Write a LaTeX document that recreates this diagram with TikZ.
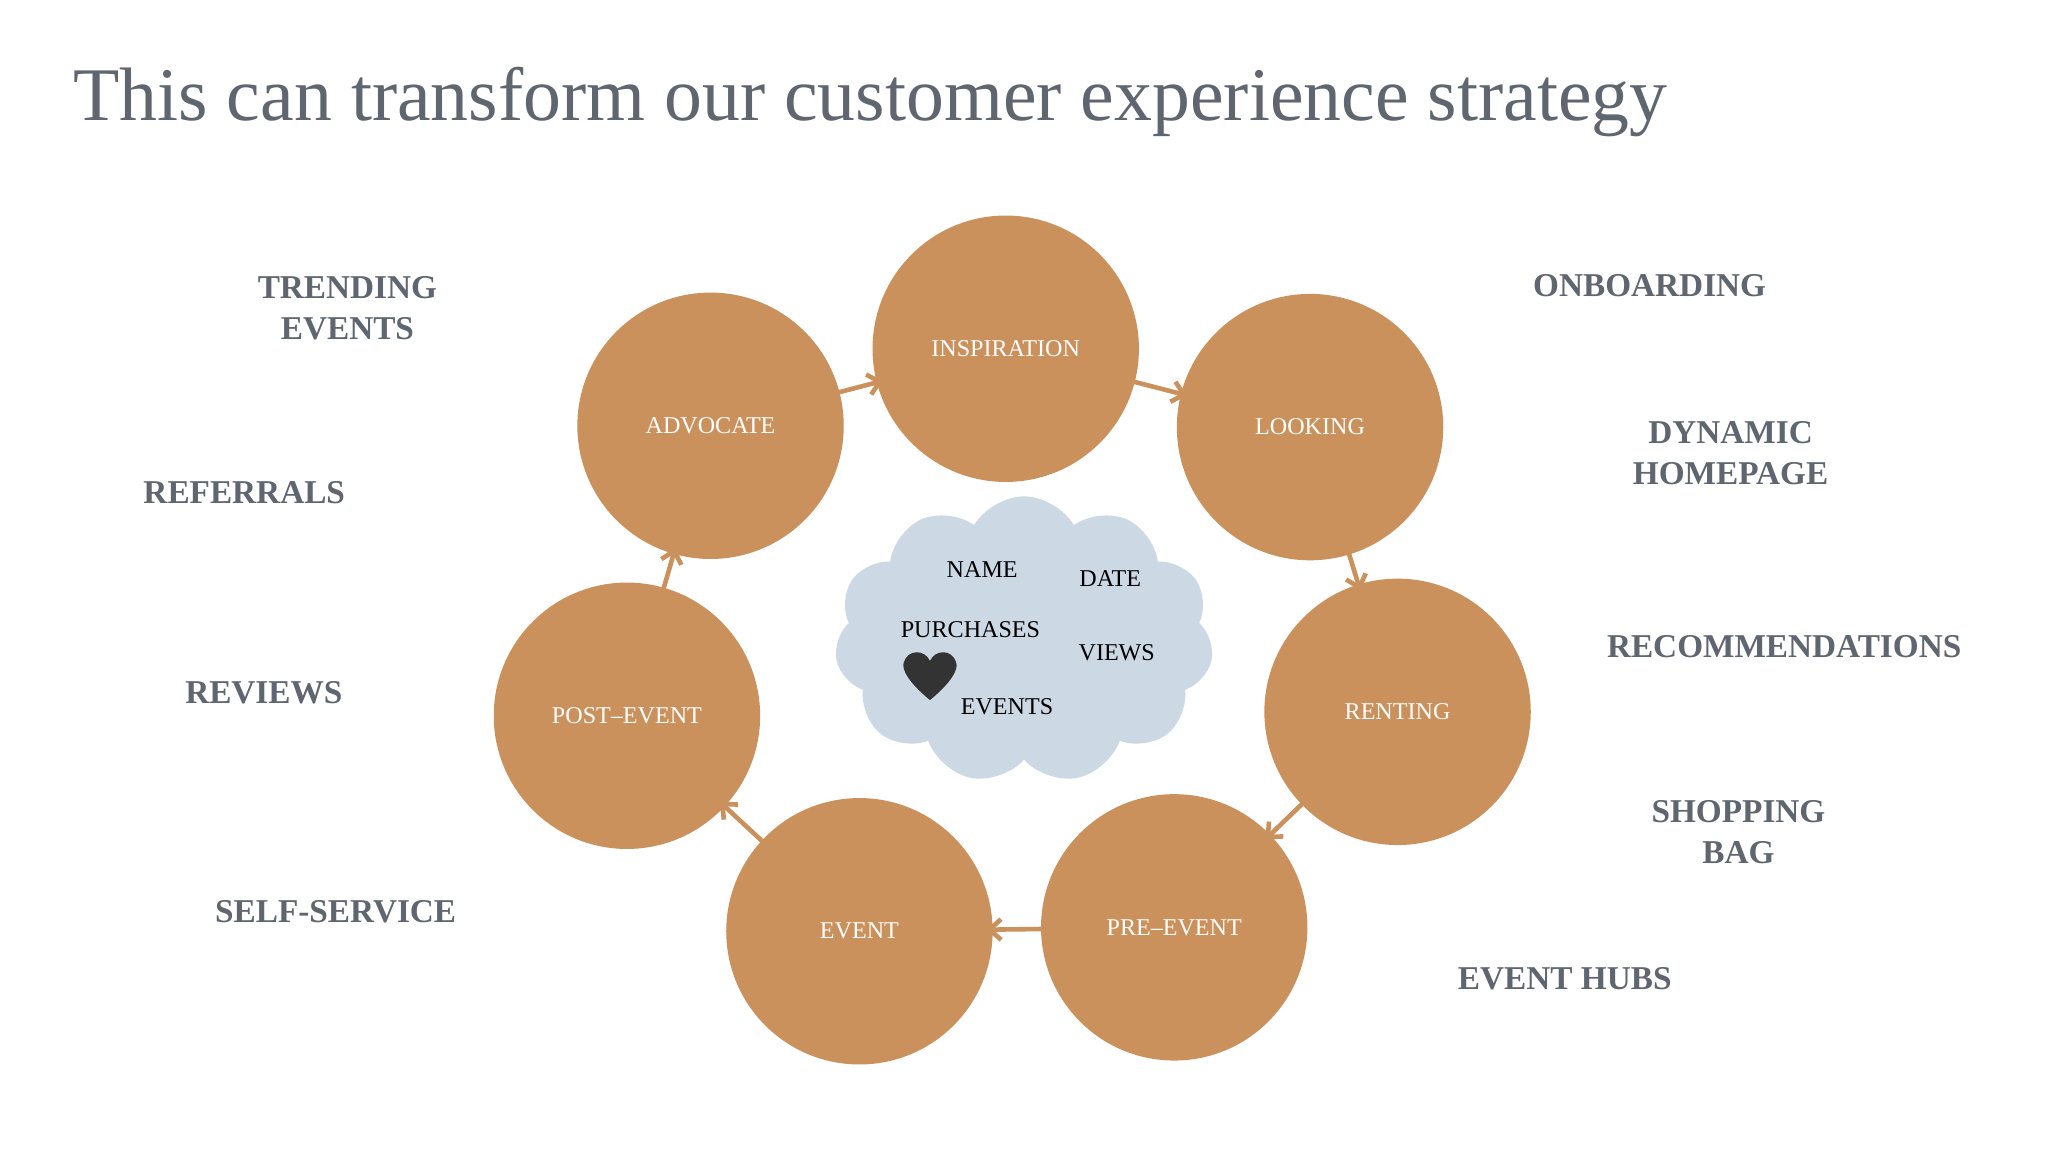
\documentclass[tikz,border=0pt]{standalone}
\usepackage{fontspec}
\setmainfont{Liberation Serif}
\usetikzlibrary{shapes.symbols,arrows.meta}
\definecolor{orng}{HTML}{CB915C}
\definecolor{cloudc}{HTML}{CCD9E5}
\definecolor{gry}{HTML}{5F6670}
\begin{document}
\begin{tikzpicture}[x=0.02cm,y=-0.02cm,
 stage/.style={circle,fill=orng,minimum size=4.08cm,inner sep=0pt,text=white,font=\fontsize{10.5}{12}\selectfont},
 side/.style={text=gry,font=\bfseries\fontsize{14.5}{18}\selectfont,align=center},
 ctext/.style={font=\fontsize{10.5}{12}\selectfont,text=black},
 flow/.style={draw=orng,line width=2pt,-{Straight Barb[length=5pt,width=9pt]},shorten <=-3pt,shorten >=-3pt}]
\useasboundingbox[fill=white] (0,0) rectangle (1568,882);
\node[anchor=west,text=gry,font=\fontsize{33}{38}\selectfont] (title) at (50,78) {This can transform our customer experience strategy};
\node[cloud,cloud puffs=11,cloud puff arc=120,aspect=1.3,fill=cloudc,minimum width=5.8cm,minimum height=4.4cm] (cl) at (784,490) {};
\node[ctext] (nm) at (752,436) {NAME};
\node[ctext] (dt) at (850,443) {DATE};
\node[ctext] (pu) at (743,482) {PURCHASES};
\node[ctext] (vw) at (855,500) {VIEWS};
\node[ctext] (ev) at (771,541) {EVENTS};
\fill[black!80] (712,536) .. controls (695,522) and (690,512) .. (692,507) .. controls (695,497) and (708,497) .. (712,506) .. controls (716,497) and (729,497) .. (732,507) .. controls (734,512) and (729,522) .. (712,536);
\node[stage] (insp) at (770,267) {INSPIRATION};
\node[stage] (look) at (1003,327) {LOOKING};
\node[stage] (rent) at (1070,545) {RENTING};
\node[stage] (pre) at (899,710) {PRE--EVENT};
\node[stage] (event) at (658,713) {EVENT};
\node[stage] (post) at (480,548) {POST--EVENT};
\node[stage] (adv) at (544,326) {ADVOCATE};
\draw[flow] (adv) -- (insp);
\draw[flow] (insp) -- (look);
\draw[flow] (look) -- (rent);
\draw[flow] (rent) -- (pre);
\draw[flow] (pre) -- (event);
\draw[flow] (event) -- (post);
\draw[flow] (post) -- (adv);
\node[side] (l1) at (266,236) {TRENDING\\EVENTS};
\node[side] (l2) at (187,377) {REFERRALS};
\node[side] (l3) at (202,530) {REVIEWS};
\node[side] (l4) at (257,698) {SELF-SERVICE};
\node[side] (r1) at (1263,219) {ONBOARDING};
\node[side] (r2) at (1325,347) {DYNAMIC\\HOMEPAGE};
\node[side] (r3) at (1366,495) {RECOMMENDATIONS};
\node[side] (r4) at (1331,637) {SHOPPING\\BAG};
\node[side] (r5) at (1198,749) {EVENT HUBS};
\end{tikzpicture}
\end{document}
